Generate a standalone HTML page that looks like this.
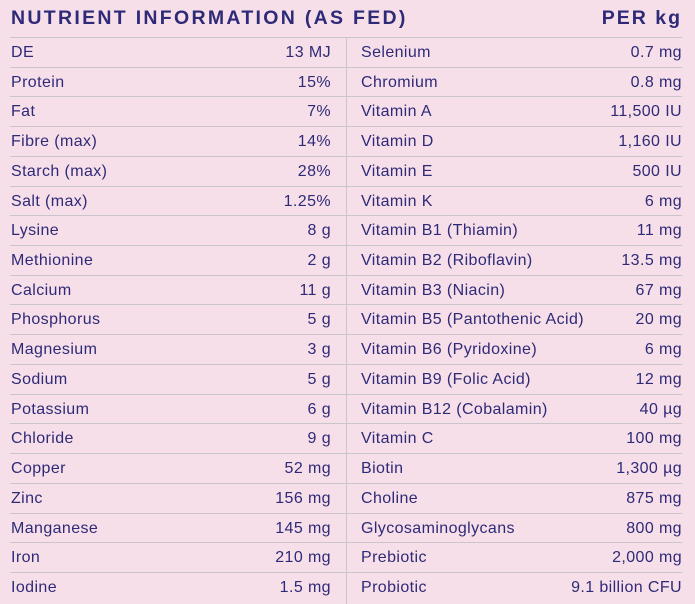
<!DOCTYPE html>
<html><head><style>
body{margin:0;width:695px;height:604px;background:#f7dfe9;font-family:"Liberation Sans",sans-serif;color:#2e2a78;position:relative;overflow:hidden}
.h{position:absolute;top:6px;font-weight:bold;font-size:19.5px;letter-spacing:2.3px;line-height:24px}
.r{position:absolute;left:10px;width:672px;height:29.72px;border-top:1px solid #c9c6cb;font-size:16px;letter-spacing:0.4px;line-height:30px}
.r span{position:absolute}
.a{left:1px}.b{right:351px}.c{left:351px}.d{right:0}
.v{position:absolute;left:346px;top:37px;width:1px;height:567px;background:#c9c6cb}
</style></head><body>
<div class="h" style="left:11px">NUTRIENT INFORMATION (AS FED)</div>
<div class="h" style="right:13px;letter-spacing:2px">PER kg</div>
<div id="t"></div>
<div class="v"></div>
<script>
var L=[["DE","13 MJ","Selenium","0.7 mg"],["Protein","15%","Chromium","0.8 mg"],["Fat","7%","Vitamin A","11,500 IU"],["Fibre (max)","14%","Vitamin D","1,160 IU"],["Starch (max)","28%","Vitamin E","500 IU"],["Salt (max)","1.25%","Vitamin K","6 mg"],["Lysine","8 g","Vitamin B1 (Thiamin)","11 mg"],["Methionine","2 g","Vitamin B2 (Riboflavin)","13.5 mg"],["Calcium","11 g","Vitamin B3 (Niacin)","67 mg"],["Phosphorus","5 g","Vitamin B5 (Pantothenic Acid)","20 mg"],["Magnesium","3 g","Vitamin B6 (Pyridoxine)","6 mg"],["Sodium","5 g","Vitamin B9 (Folic Acid)","12 mg"],["Potassium","6 g","Vitamin B12 (Cobalamin)","40 µg"],["Chloride","9 g","Vitamin C","100 mg"],["Copper","52 mg","Biotin","1,300 µg"],["Zinc","156 mg","Choline","875 mg"],["Manganese","145 mg","Glycosaminoglycans","800 mg"],["Iron","210 mg","Prebiotic","2,000 mg"],["Iodine","1.5 mg","Probiotic","9.1 billion CFU"]];
var h="";L.forEach(function(r,i){h+='<div class="r" style="top:'+(37+i*29.72).toFixed(2)+'px"><span class="a">'+r[0]+'</span><span class="b">'+r[1]+'</span><span class="c">'+r[2]+'</span><span class="d">'+r[3]+'</span></div>'});
document.getElementById("t").innerHTML=h;
</script>
</body></html>
